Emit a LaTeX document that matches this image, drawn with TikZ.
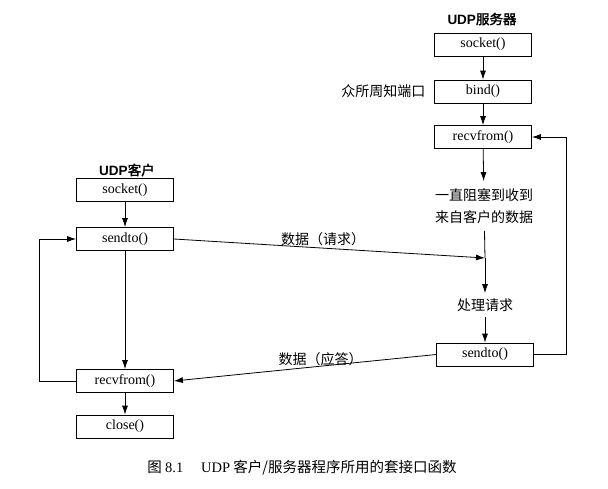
\documentclass[tikz,border=0pt]{standalone}
\usepackage{fontspec}
\setmainfont{Liberation Serif}
\newfontfamily\cjk[AutoFakeBold=2]{Noto Sans CJK SC}
\newfontfamily\hsans{Liberation Sans}
\usetikzlibrary{positioning, arrows.meta}

\tikzset{
  callbox/.style={draw, minimum width=97pt, minimum height=23pt, inner sep=0pt,
    font=\fontsize{14}{14}\selectfont},
  cjklabel/.style={font=\cjk\fontsize{14}{22}\selectfont},
  colhead/.style={font=\cjk\bfseries\fontsize{13.5}{14}\selectfont}
}

\begin{document}
\begin{tikzpicture}[x=1pt, y=-1pt, >={Latex[length=9pt, width=6pt]}, line width=0.8pt]
    \useasboundingbox (0,0) rectangle (608,488);

    % server side
    \node[colhead] (shead) at (482,19) {{\hsans\bfseries UDP}服务器};
    \node[callbox] (ssock) at (483,44.5) {socket()};
    \node[callbox] (sbind) at (483,91.5) {bind()};
    \node[callbox] (srecv) at (483,137) {recvfrom()};
    \node[cjklabel, left=5pt of sbind] (port) {众所周知端口};
    \node[cjklabel, align=center, inner sep=7pt] (swait) at (484,206) {一直阻塞到收到\\来自客户的数据};
    \coordinate (sreq) at (485,258);
    \node[cjklabel, inner sep=5pt] (sproc) at (485,305) {处理请求};
    \node[callbox] (ssend) at (485,354.5) {sendto()};

    \draw[->] (ssock) -- (sbind);
    \draw[->] (sbind) -- (srecv);
    \draw[->] (srecv) -- (swait);
    \draw (swait) -- (sreq);
    \draw[->] (sreq) -- (sproc);
    \draw[->] (sproc) -- (ssend);
    \draw[->] (ssend.east) -- ++(32,0) |- (srecv.east);

    % client side
    \node[colhead] (chead) at (127,170) {{\hsans\bfseries UDP}客户};
    \node[callbox] (csock) at (125,190) {socket()};
    \node[callbox] (csend) at (125,239) {sendto()};
    \node[callbox] (crecv) at (125,381) {recvfrom()};
    \node[callbox] (cclose) at (125,426.5) {close()};

    \draw[->] (csock) -- (csend);
    \draw[->] (csend) -- (crecv);
    \draw[->] (crecv) -- (cclose);
    \draw[->] (crecv.west) -- ++(-37,0) |- (csend.west);

    % data between the two
    \draw[->] (csend.east) -- node[cjklabel, above, pos=0.48, inner sep=2pt] {数据（请求）} (sreq);
    \draw[->] (ssend.west) -- node[cjklabel, above, pos=0.44, inner sep=0pt] {数据（应答）} (crecv.east);

    \node[font=\cjk\fontsize{14.5}{15}\selectfont] (cap) at (302,468)
        {图 {\rmfamily 8.1}\quad\ {\rmfamily UDP} 客户/服务器程序所用的套接口函数};
\end{tikzpicture}
\end{document}
